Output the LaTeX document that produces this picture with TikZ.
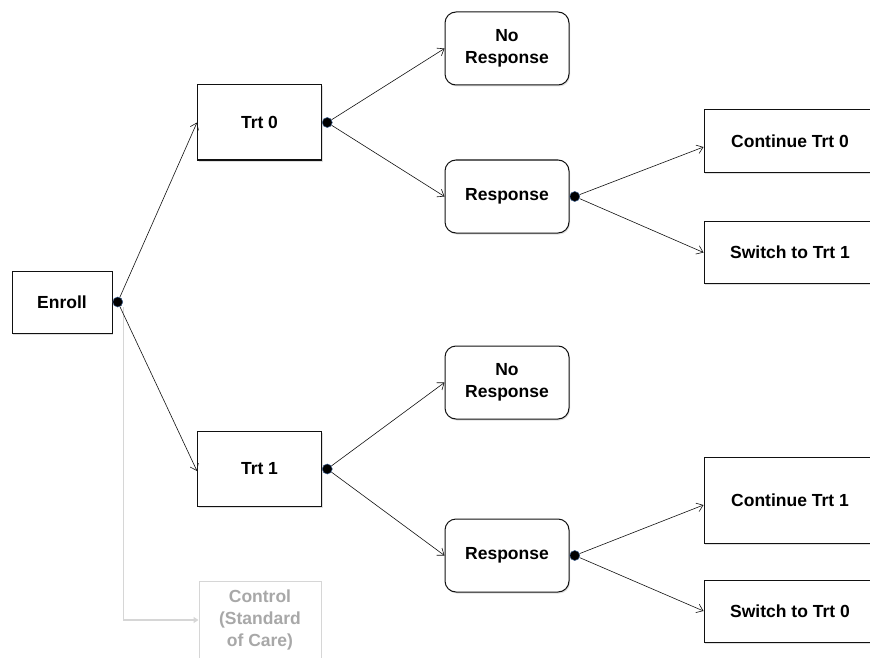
\documentclass[tikz,border=0pt]{standalone}
\usepackage{fontspec}
\setmainfont{Liberation Sans}
\usepackage{xcolor}
\definecolor{lineDark}{HTML}{111111}
\definecolor{dotEdge}{HTML}{3D5F8F}
\definecolor{ctrlText}{HTML}{A8A8A8}
\definecolor{ctrlEdge}{HTML}{D6D6D6}
\usetikzlibrary{positioning,arrows.meta,shadows}
\tikzset{%
  softShadow/.style={%
    drop shadow={opacity=0.25, shadow xshift=1pt, shadow yshift=-1.5pt}
  },
  stageBox/.style={%
    rectangle,
    draw=lineDark,
    fill=white,
    line width=1pt,
    softShadow,
    align=center
  },
  outcomeBox/.style={%
    stageBox,
    rounded corners=11pt,
    minimum width=124pt,
    minimum height=73pt
  },
  armBox/.style={%
    stageBox,
    minimum width=124pt,
    minimum height=75pt
  },
  nextBox/.style={%
    stageBox,
    minimum width=172pt,
    minimum height=62pt
  },
  splitDot/.style={%
    circle,
    fill=black,
    draw=dotEdge,
    line width=0.5pt,
    inner sep=0pt,
    minimum size=10pt
  },
  arrowLine/.style={%
    -{Straight Barb[length=6pt,width=9pt]},
    line width=0.6pt,
    color=lineDark
  },
  ctrlLine/.style={%
    -{Triangle[length=5pt,width=6pt]},
    line width=1.2pt,
    color=ctrlEdge
  }
}
\begin{document}
\begin{tikzpicture}[x=1pt,y=-1pt,font=\fontsize{17.5}{22}\selectfont\bfseries]
  \useasboundingbox (0,0) rectangle (870,658);
  \clip (0,0) rectangle (870,658);

  % first stage
  \node[stageBox, minimum width=100pt, minimum height=62pt] (enroll) at (62,302) {Enroll};
  \node[splitDot, right=0pt of enroll] (dotE) {};

  \node[armBox] (trt0) at (259.5,122.5) {Trt 0};
  \node[armBox] (trt1) at (259.5,469) {Trt 1};
  \node[stageBox, draw=ctrlEdge, text=ctrlText, minimum width=122pt, minimum height=78pt] (control) at (260,620) {Control\\(Standard\\of Care)};
  \node[splitDot, right=0pt of trt0] (dot0) {};
  \node[splitDot, right=0pt of trt1] (dot1) {};

  % second stage
  \node[outcomeBox] (noresp0) at (507,48.5) {No\\Response};
  \node[outcomeBox] (resp0) at (507,196.5) {Response};
  \node[outcomeBox] (noresp1) at (507,382.5) {No\\Response};
  \node[outcomeBox] (resp1) at (507,555.5) {Response};
  \node[splitDot, right=0pt of resp0] (dotR0) {};
  \node[splitDot, right=0pt of resp1] (dotR1) {};

  % third stage
  \node[nextBox] (cont0) at (790,141) {Continue Trt 0};
  \node[nextBox] (switch1) at (790,252.5) {Switch to Trt 1};
  \node[nextBox, minimum height=86pt] (cont1) at (790,500) {Continue Trt 1};
  \node[nextBox] (switch0) at (790,611) {Switch to Trt 0};

  \draw[ctrlLine] ([xshift=6pt]dotE.south) |- (control.west);
  \draw[arrowLine] (dotE) -- (trt0.west);
  \draw[arrowLine] (dotE) -- ([yshift=-2pt]trt1.west);
  \draw[arrowLine] (dot0) -- (noresp0.west);
  \draw[arrowLine] (dot0) -- (resp0.west);
  \draw[arrowLine] (dot1) -- (noresp1.west);
  \draw[arrowLine] (dot1) -- (resp1.west);
  \draw[arrowLine] (dotR0) -- ([yshift=-6pt]cont0.west);
  \draw[arrowLine] (dotR0) -- (switch1.west);
  \draw[arrowLine] (dotR1) -- ([yshift=-5pt]cont1.west);
  \draw[arrowLine] (dotR1) -- (switch0.west);
\end{tikzpicture}
\end{document}
